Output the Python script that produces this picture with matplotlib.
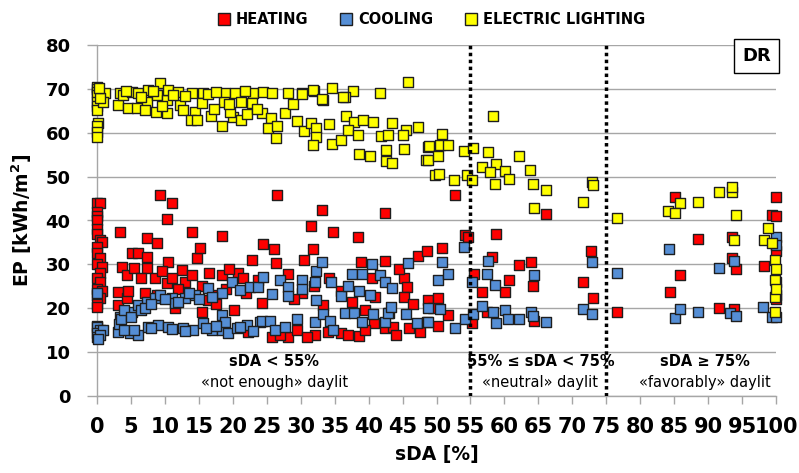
import numpy as np
import matplotlib
matplotlib.use('Agg')
import matplotlib.pyplot as plt
from matplotlib.lines import Line2D

# EP values [kWh/m2] against sDA [%], one (sDA, EP) pair per row
heating = np.array([
    [0, 44], [0.4, 44], [0, 42], [0, 41], [0, 40], [0, 38], [0, 37], [0.4, 35.6], [0.7, 35], [0, 34],
    [0, 32.5], [0.4, 31.5], [0, 30], [0.8, 29.4], [0.4, 28], [0, 27], [0.4, 26], [0, 24.5], [0.8, 24],
    [0, 23], [0.4, 22.3], [0, 21], [0, 20.3],
    [3.4, 37.4], [3.1, 23.7], [3.1, 20.8], [3.7, 29.4], [4.4, 27.6], [4.4, 22.3], [4.6, 23.9], [5.2, 32.6],
    [5.4, 29.2], [6.0, 32.6], [7.1, 23.5], [7.4, 36], [7.4, 31.7], [7.4, 29.2], [8.5, 26.9], [8.8, 34.9],
    [8.8, 23], [9.3, 45.8], [10.3, 40.4], [10.3, 25.8], [10.5, 30.6], [11.0, 44], [11.5, 20.1], [12.5, 28.7],
    [13.0, 26], [14.0, 37.4], [14.7, 31.5], [15.2, 33.8], [15.5, 19.2], [16.3, 21.9], [18.4, 36.5],
    [18.4, 27.6], [20.2, 19.6], [20.8, 28], [22.2, 14.6], [22.8, 31], [23.7, 26.5], [24.3, 21.2],
    [24.4, 34.6], [26.0, 33.6],
    [6.5, 27], [9.5, 28.5], [11.0, 27], [12.0, 24.5], [14.0, 27.5], [15.5, 25], [16.5, 28], [17.0, 23],
    [19.0, 24.5], [19.5, 29], [21.5, 27], [22.0, 23.5], [17.5, 21],
    [26.4, 30.3], [26.5, 45.8], [25.8, 13.5], [28.1, 27.8], [28.1, 13.5], [30.2, 23.5], [30.5, 31],
    [31.5, 38.8], [31.8, 33.5], [32.1, 13.9], [33.1, 42.4], [33.3, 20.8], [34.2, 26.9], [34.8, 37.4],
    [35.9, 14.4], [37.6, 21.4], [38.4, 36.3], [38.6, 13.7], [38.9, 30.6], [40.5, 26.9], [40.8, 16.6],
    [42.4, 41.7], [42.4, 30.8], [42.4, 15.5], [43.6, 15.7], [45.2, 26.9], [45.7, 24.9], [45.2, 22.6],
    [47.3, 31.9], [48.6, 33.1], [48.7, 21.9],
    [27.0, 14], [29.5, 15], [31.0, 13.5], [34.0, 14.5], [37.0, 14], [39.5, 15], [44.0, 14], [46.0, 15.5],
    [47.5, 14.5], [29.0, 22], [32.0, 25], [36.0, 24], [39.5, 19.5], [41.0, 22.5], [43.0, 19], [44.5, 29],
    [46.5, 21], [49.5, 20],
    [50.8, 33.7], [50.2, 22.3], [51.7, 18.5], [50.2, 16], [52.7, 45.8], [54.2, 36.7], [54.6, 36.3],
    [55.5, 27.8], [55.2, 16.6], [56.7, 23.7], [57.4, 19.2], [58.2, 31.7], [58.8, 36.9], [60.1, 23.7],
    [60.7, 26.5], [62.1, 29.9], [63.9, 30.6], [64.2, 25.1], [64.4, 17.1], [66.1, 41.5], [71.6, 26],
    [72.8, 33.1], [73.0, 22.3],
    [76.6, 19.2], [84.4, 23.7], [85.1, 45.4], [85.9, 27.6], [88.5, 35.8], [91.6, 20.1], [93.5, 36.3],
    [93.5, 31.5], [93.8, 19.9], [94.1, 29], [98.2, 29.6], [99.4, 41.3], [100, 41], [100, 45.4],
    [100, 33], [100, 22],
])

cooling = np.array([
    [0, 23.5], [0, 16], [0, 15.7], [0.4, 15], [0, 14.4], [0, 13.5], [0.9, 15.1], [0.4, 14], [0.2, 13],
    [3.4, 18], [3.1, 14.6], [3.3, 16.5], [4.4, 18.9], [4.9, 14.4], [5.2, 19.2], [6.0, 20.8], [6.0, 13.9],
    [7.4, 21.4], [7.5, 15.7], [8.5, 22.3], [9.0, 16.2], [9.3, 23], [10.5, 15.7], [11.0, 22.3], [11.5, 21.2],
    [12.7, 15.5], [13.0, 22.3], [14.1, 15.1], [14.4, 23], [15.6, 16.6], [16.3, 24.6], [16.9, 15.1],
    [18.4, 23.5], [18.4, 15.1], [18.4, 18.5], [18.9, 16.9], [19.3, 14.4], [19.9, 26], [20.6, 15.5],
    [21.1, 24.2], [22.1, 16.2], [22.5, 24.9], [23.7, 24.9], [24.0, 16.9], [24.3, 17.1], [24.4, 27.1],
    [25.5, 17.1], [25.8, 23.3], [26.2, 15.1], [27.0, 26.5], [27.7, 15.7], [28.1, 24.9], [28.1, 22.8],
    [29.5, 17.6], [30.2, 26.5], [30.2, 24.4], [32.1, 16.9], [32.1, 26], [32.3, 28.5], [32.3, 21.9],
    [33.1, 30.6], [33.3, 18.7], [34.3, 17.1], [34.5, 26], [34.8, 15.1], [35.9, 22.8], [36.5, 18.9],
    [37.0, 25.1], [37.6, 27.8], [37.9, 18.9], [38.6, 23.9], [39.0, 27.8], [39.0, 16.9], [40.2, 23],
    [40.5, 30.1], [40.6, 18.7], [41.7, 27.6], [42.4, 26], [42.4, 16.9], [42.9, 18.9], [43.3, 20.3],
    [43.4, 24.6], [45.5, 18.7], [45.8, 30.3], [47.1, 16.6], [48.6, 16.9], [48.7, 20.1], [48.7, 16.9],
    [3.5, 17.5], [4.0, 19.5], [5.0, 18], [6.5, 19.5], [7.0, 20], [8.0, 21], [10.0, 22], [12.0, 21.5],
    [13.5, 23.5], [15.0, 22], [17.0, 22.5], [4.0, 15], [5.5, 15], [8.0, 15.5], [11.0, 15.3], [13.0, 14.8],
    [16.0, 15.5], [17.5, 16], [21.0, 15.8], [23.0, 14.8],
    [50.2, 26.5], [50.5, 19.8], [50.8, 30.6], [51.7, 27.8], [52.7, 15.5], [54.0, 34], [54.2, 17.6],
    [55.2, 26], [55.4, 18.7], [56.7, 20.5], [57.4, 27.8], [57.6, 30.8], [58.3, 19.2], [58.6, 25.3],
    [58.8, 16.6], [60.1, 19.6], [60.5, 17.6], [62.1, 17.6], [63.9, 19.2], [64.2, 18.2], [64.4, 27.6],
    [66.1, 16.9], [71.6, 19.8], [72.9, 30.6], [72.9, 18.7],
    [76.6, 28], [84.2, 33.5], [85.1, 17.8], [85.9, 19.8], [88.5, 19.2], [91.6, 29.2], [93.2, 18.9],
    [93.8, 30.8], [94.1, 18.2], [98.1, 20.3], [99.4, 18], [100, 36.3], [100, 34.5], [100, 26],
    [100, 23], [100, 18],
])

lighting = np.array([
    [0, 70.5], [0, 70], [0, 69.3], [0, 68.6], [0, 67], [0, 66], [0, 65.2], [0.2, 62.3], [0, 61.5],
    [0, 60.2], [0, 59.1], [1.2, 69.1], [0.9, 67], [0.5, 68], [0.3, 70.3],
    [3.4, 69.1], [3.1, 66.4], [4.6, 65.7], [3.8, 68.6], [5.2, 69.3], [6.0, 69.1], [5.9, 65.7], [7.5, 69.8],
    [7.4, 67], [7.1, 65.2], [9.3, 71.4], [8.8, 68.6], [10.3, 67.5], [8.7, 64.8], [10.3, 64.5], [10.5, 69.8],
    [11.9, 69.3], [12.2, 66.4], [12.7, 65.2], [14.0, 69.1], [14.4, 64.8], [15.6, 69.1], [15.5, 66.8],
    [13.8, 62.9], [14.7, 62.9], [16.8, 63.9], [18.4, 61.6], [18.9, 69.1], [18.7, 67], [20.3, 69.1],
    [21.2, 67], [20.0, 63.6], [21.2, 62.9], [22.1, 64.3], [23.0, 69.1], [22.8, 66.8], [24.3, 64.5],
    [24.4, 69.3],
    [4.2, 69.6], [6.5, 68.2], [8.2, 69.5], [9.6, 66], [11.2, 68.5], [13.0, 68.3], [16.4, 68.8],
    [17.3, 65.5], [19.6, 64.8], [17.5, 69.3], [21.8, 69.6], [23.6, 65.5], [19.4, 66.5],
    [25.8, 69.1], [28.1, 69.1], [30.2, 69.1], [32.0, 69.6], [34.6, 70.2], [37.7, 69.6], [41.7, 69.1],
    [33.3, 67.5], [36.5, 68.2], [25.6, 63.4], [27.7, 64.5], [28.9, 66.6], [29.5, 62.7], [25.2, 61.1],
    [26.5, 61.6], [26.4, 58.8], [30.5, 60.4], [31.5, 62.3], [32.3, 61.1], [34.2, 62], [32.3, 59.1],
    [31.8, 57.2], [34.6, 57.5], [35.9, 58.4], [36.7, 63.9], [37.9, 62.5], [39.2, 62.9], [40.6, 62.5],
    [37.0, 60.7], [38.4, 59.5], [41.8, 59.3], [42.9, 59.5], [43.4, 62.3], [45.5, 60.7], [47.3, 61.3],
    [45.1, 59.5], [38.6, 55.2], [40.2, 54.7], [42.6, 56.1], [42.6, 53.6], [43.4, 53.1], [45.2, 56.3],
    [48.7, 56.8], [48.5, 53.8], [49.8, 50.4], [45.8, 71.6], [30.2, 68.9], [31.8, 69.8], [33.1, 67.7],
    [36.2, 68.2],
    [50.8, 59.8], [48.9, 57], [50.5, 57.2], [51.7, 57.2], [48.7, 53.8], [50.2, 54.7], [54.0, 55.9],
    [55.4, 56.6], [57.6, 55.6], [62.1, 54.7], [50.4, 50.6], [52.6, 49.3], [54.5, 50.4], [55.2, 49.3],
    [56.7, 52.2], [58.8, 52.9], [57.9, 51.1], [60.1, 51.3], [60.7, 49.5], [58.6, 48.3], [63.8, 51.5],
    [64.2, 48.3], [66.1, 47], [64.4, 42.9], [71.6, 44.2], [72.9, 48.8], [73.0, 48], [58.3, 63.9],
    [76.6, 40.6], [85.9, 44], [84.1, 42.2], [85.1, 41.7], [88.5, 44.2], [91.6, 46.5], [93.5, 46.5],
    [93.5, 47.7], [94.1, 41.3], [98.8, 38.3], [98.2, 35.6], [99.4, 34.9], [99.9, 31], [99.9, 26.5],
    [99.9, 22.6], [99.9, 19.2], [93.8, 35.6], [100, 29], [100, 24.5],
])

x_ticks = list(range(0, 101, 5))
y_ticks = list(range(0, 81, 10))

red = '#FF0000'
blue = '#558ED5'
yellow = '#FFFF00'
edge = '#1E1E1E'
grid_grey = '#A6A6A6'

fig = plt.figure(figsize=(7.99, 4.73), dpi=100)
ax = fig.add_axes([97 / 799, 77 / 473, 679 / 799, 351 / 473])

msize = 56
for pts, col in [(heating, red), (cooling, blue), (lighting, yellow)]:
    ax.scatter(pts[:, 0], pts[:, 1], s=msize, marker='s', color=col,
               edgecolors=edge, linewidths=1.0, clip_on=False, zorder=3)

ax.set_xlim(0, 100)
ax.set_ylim(0, 80)
ax.set_xticks(x_ticks)
ax.set_yticks(y_ticks)

# horizontal gridlines only
ax.grid(axis='y', color=grid_grey, linewidth=1.0)
ax.set_axisbelow(True)
for side in ['top', 'right']:
    ax.spines[side].set_visible(False)
for side in ['left', 'bottom']:
    ax.spines[side].set_color(grid_grey)
    ax.spines[side].set_linewidth(1.0)

ax.tick_params(axis='y', direction='out', length=7, width=1, color=grid_grey, pad=12)
ax.tick_params(axis='x', direction='out', length=6, width=1, color=grid_grey, pad=9)
for lab in ax.get_yticklabels():
    lab.set_fontfamily('DejaVu Sans')
    lab.set_fontweight('bold')
    lab.set_fontsize(13)
for lab in ax.get_xticklabels():
    lab.set_fontfamily(['Liberation Sans Narrow', 'DejaVu Sans'])
    lab.set_fontweight('bold')
    lab.set_fontsize(15)

ax.set_ylabel('EP [kWh/m$^\\mathbf{2}$]', fontsize=13.5, fontweight='bold', labelpad=8)
ax.set_xlabel('sDA [%]', fontsize=13.5, fontweight='bold', labelpad=6)

# sDA class limits
for xv in [55, 75]:
    ax.axvline(xv, color='black', linestyle=(0, (1, 1)), linewidth=2.5, zorder=4)

# class descriptions
ax.text(26.1, 7.8, 'sDA < 55%', ha='center', va='center', fontsize=10.5, fontweight='bold')
ax.text(26.1, 3.0, '«not enough» daylit', ha='center', va='center', fontsize=10.5)
ax.text(65.3, 7.8, '55% ≤ sDA < 75%', ha='center', va='center', fontsize=10.5, fontweight='bold')
ax.text(65.3, 3.0, '«neutral» daylit', ha='center', va='center', fontsize=10.5)
ax.text(89.5, 7.8, 'sDA ≥ 75%', ha='center', va='center', fontsize=10.5, fontweight='bold')
ax.text(89.5, 3.0, '«favorably» daylit', ha='center', va='center', fontsize=10.5)

ax.text(0.972, 0.969, 'DR', transform=ax.transAxes, ha='center', va='center',
        fontsize=13, fontweight='bold', zorder=5,
        bbox=dict(boxstyle='square,pad=0.45', facecolor='white', edgecolor='black', linewidth=1.0))

handles = [
    Line2D([0], [0], linestyle='none', marker='s', markersize=8, markerfacecolor=red,
           markeredgecolor=edge, markeredgewidth=1.0, label='HEATING'),
    Line2D([0], [0], linestyle='none', marker='s', markersize=8, markerfacecolor=blue,
           markeredgecolor=edge, markeredgewidth=1.0, label='COOLING'),
    Line2D([0], [0], linestyle='none', marker='s', markersize=8, markerfacecolor=yellow,
           markeredgecolor=edge, markeredgewidth=1.0, label='ELECTRIC LIGHTING'),
]
fig.legend(handles=handles, loc='center', bbox_to_anchor=(0.54, 0.958), ncol=3, frameon=False,
           prop={'weight': 'bold', 'size': 10.5}, handlelength=0.8, handletextpad=0.4,
           columnspacing=2.2)

fig.savefig('out.png', dpi=100)
